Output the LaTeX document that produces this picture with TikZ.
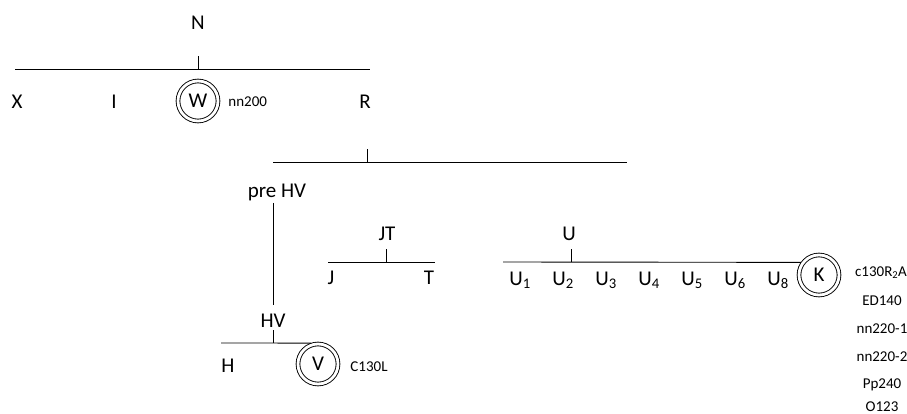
\documentclass[tikz,border=0pt]{standalone}
\usepackage{fontspec}
\setmainfont{Carlito}

\begin{document}
\begin{tikzpicture}[x=1pt, y=-1pt, line width=0.9pt,
  lbl/.style={font=\fontsize{21}{25}\selectfont, inner sep=0pt, anchor=base},
  note/.style={font=\fontsize{15}{18}\selectfont, inner sep=0pt, anchor=base},
  ring/.style={circle, draw, double, double distance=2.8pt, minimum size=40pt,
    inner sep=0pt, outer sep=2pt, font=\fontsize{21}{25}\selectfont}]
  \useasboundingbox (0,0) rectangle (907,414);

  % top level: N over X, I, W, R
  \node[lbl] (N) at (198,30) {N};
  \coordinate (nL) at (15,69);
  \coordinate (nR) at (370,69);
  \draw (nL) -- (nR);
  \draw (N |- nL) -- ++(0,-13);
  \node[lbl] (X) at (17,109) {X};
  \node[lbl] (I) at (114,109) {I};
  \node[ring] (W) at (198,101) {W};
  \node[note, anchor=base west] (nn200) at (228,107) {nn200};
  \node[lbl] (R) at (365,109) {R};

  % R branch
  \coordinate (rL) at (273,162);
  \coordinate (rR) at (627,162);
  \draw (rL) -- (rR);
  \draw (367,162) -- ++(0,-13);

  % pre HV down to HV
  \node[lbl] (preHV) at (277,197) {pre HV};
  \node[lbl] (HV) at (273,327) {HV};
  \draw (273,203) -- (273,305);
  \node[lbl] (H) at (228,372) {H};
  \node[ring] (V) at (318,364) {V};
  \node[note, anchor=base west] (C130L) at (350,371) {C130L};
  \coordinate (hL) at (221,343);
  \draw (hL) -- (V.108);
  \draw (HV |- hL) -- ++(0,-13);

  % JT
  \node[lbl] (JT) at (387,240) {JT};
  \coordinate (jL) at (328,262);
  \coordinate (jR) at (435,262);
  \draw (jL) -- (jR);
  \draw (386,262) -- ++(0,-13);
  \node[lbl] (J) at (331,284) {J};
  \node[lbl] (T) at (429,284) {T};

  % U row ending in K
  \node[lbl] (U) at (569,240) {U};
  \node[ring] (K) at (819,275) {K};
  \coordinate (uL) at (503,262);
  \draw (uL) -- (K.145);
  \draw (571,262) -- ++(0,-13);
  \foreach \i/\s in {0/1,1/2,2/3,3/4,4/5,5/6,6/8}
    \node[lbl] (U\s) at (520+43*\i,285) {U\textsubscript{\s}};

  % right column
  \node[note] (c130) at (881,276) {c130R\textsubscript{2}A};
  \node[note] (ED140) at (882,305) {ED140};
  \node[note] (nn2201) at (882,333) {nn220-1};
  \node[note] (nn2202) at (882,361) {nn220-2};
  \node[note] (Pp240) at (882,388) {Pp240};
  \node[note] (O123) at (882,411) {O123};
\end{tikzpicture}
\end{document}
